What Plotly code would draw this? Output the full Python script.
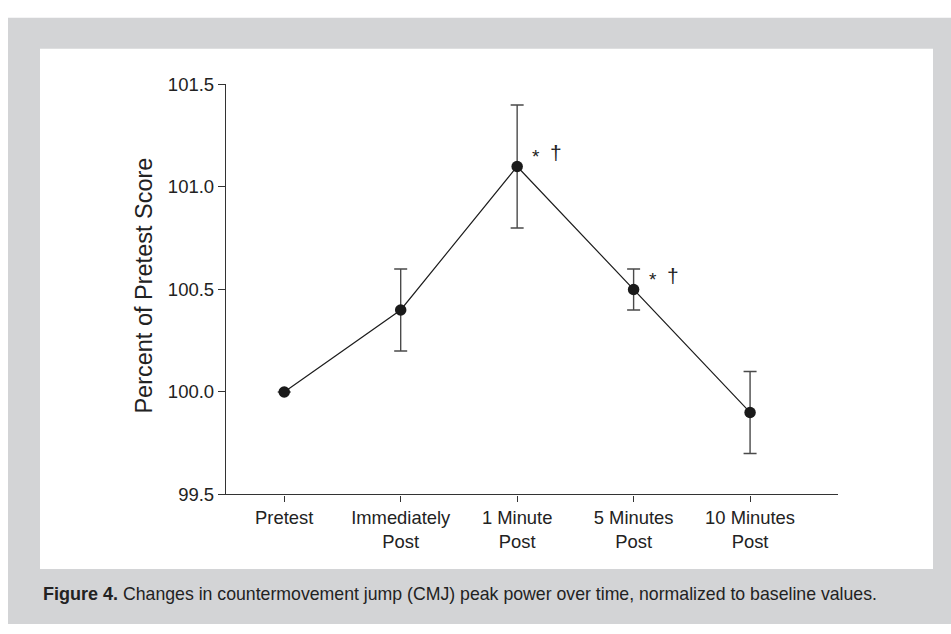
import plotly.graph_objects as go

categories = ["Pretest", "Immediately<br>Post", "1 Minute<br>Post", "5 Minutes<br>Post", "10 Minutes<br>Post"]
means = [100.0, 100.4, 101.1, 100.5, 99.9]
errors = [0.0, 0.2, 0.3, 0.1, 0.2]
y_ticks = [99.5, 100.0, 100.5, 101.0, 101.5]
y_ticktext = ["99.5", "100.0", "100.5", "101.0", "101.5"]
sig_idx = [2, 3]

W, H = 951, 634
FONT = "Liberation Sans, Arial, Helvetica, sans-serif"
xpos = list(range(len(categories)))

def px(x):
    return x / W

def py(y):
    return 1 - y / H

fig = go.Figure()
fig.add_trace(go.Scatter(
    x=xpos, y=means, mode="lines+markers",
    line=dict(color="#1e1e1e", width=1.2),
    marker=dict(color="#1a1a1a", size=11.5),
    error_y=dict(type="data", array=errors, visible=True, color="#4a4a4a", thickness=1.4, width=6.5),
    showlegend=False, cliponaxis=False,
))

annotations = []
for i in sig_idx:
    annotations.append(dict(x=xpos[i], y=means[i], xref="x", yref="y", text="*", showarrow=False,
                            xshift=19, yshift=10, font=dict(family=FONT, size=19, color="#222")))
    annotations.append(dict(x=xpos[i], y=means[i], xref="x", yref="y", text="†", showarrow=False,
                            xshift=39, yshift=14, font=dict(family=FONT, size=21, color="#222")))

annotations.append(dict(x=px(144), y=py(284), xref="paper", yref="paper", text="Percent of Pretest Score",
                        textangle=-90, showarrow=False, xanchor="center", yanchor="middle",
                        font=dict(family=FONT, size=23.5, color="#222")))
annotations.append(dict(x=px(41), y=py(603), xref="paper", yref="paper",
                        text="<b><span style='font-size:18px'>Figure 4.</span></b> Changes in countermovement jump (CMJ) peak power over time, normalized to baseline values.",
                        showarrow=False, xanchor="left", yanchor="middle",
                        font=dict(family=FONT, size=17.7, color="#222")))

shapes = [
    dict(type="rect", xref="paper", yref="paper", x0=px(8), x1=1.0, y0=0.0, y1=py(7),
         fillcolor="#d3d4d6", line=dict(width=0), layer="below"),
    dict(type="rect", xref="paper", yref="paper", x0=px(40), x1=px(933), y0=py(577), y1=py(39),
         fillcolor="#ffffff", line=dict(width=0), layer="below"),
]

fig.update_layout(
    width=W, height=H,
    margin=dict(l=0, r=0, t=0, b=0),
    paper_bgcolor="#ffffff", plot_bgcolor="rgba(0,0,0,0)",
    font=dict(family=FONT, size=18, color="#222"),
    annotations=annotations, shapes=shapes,
    xaxis=dict(domain=[px(226), px(838)], range=[-0.5, 4.755], tickmode="array",
               tickvals=xpos, ticktext=categories, showline=True, linecolor="#333", linewidth=1.3,
               ticks="outside", ticklen=6, tickcolor="#333", tickwidth=1.2,
               showgrid=False, zeroline=False, fixedrange=True,
               tickfont=dict(family=FONT, size=18.4, color="#222")),
    yaxis=dict(domain=[py(500), py(76)], range=[99.5, 101.5], tickmode="array",
               tickvals=y_ticks, ticktext=y_ticktext, showline=True, linecolor="#333", linewidth=1.3,
               ticks="outside", ticklen=7, tickcolor="#333", tickwidth=1.2,
               showgrid=False, zeroline=False, fixedrange=True,
               tickfont=dict(family=FONT, size=18.5, color="#222")),
)

fig.write_html("out.html")
